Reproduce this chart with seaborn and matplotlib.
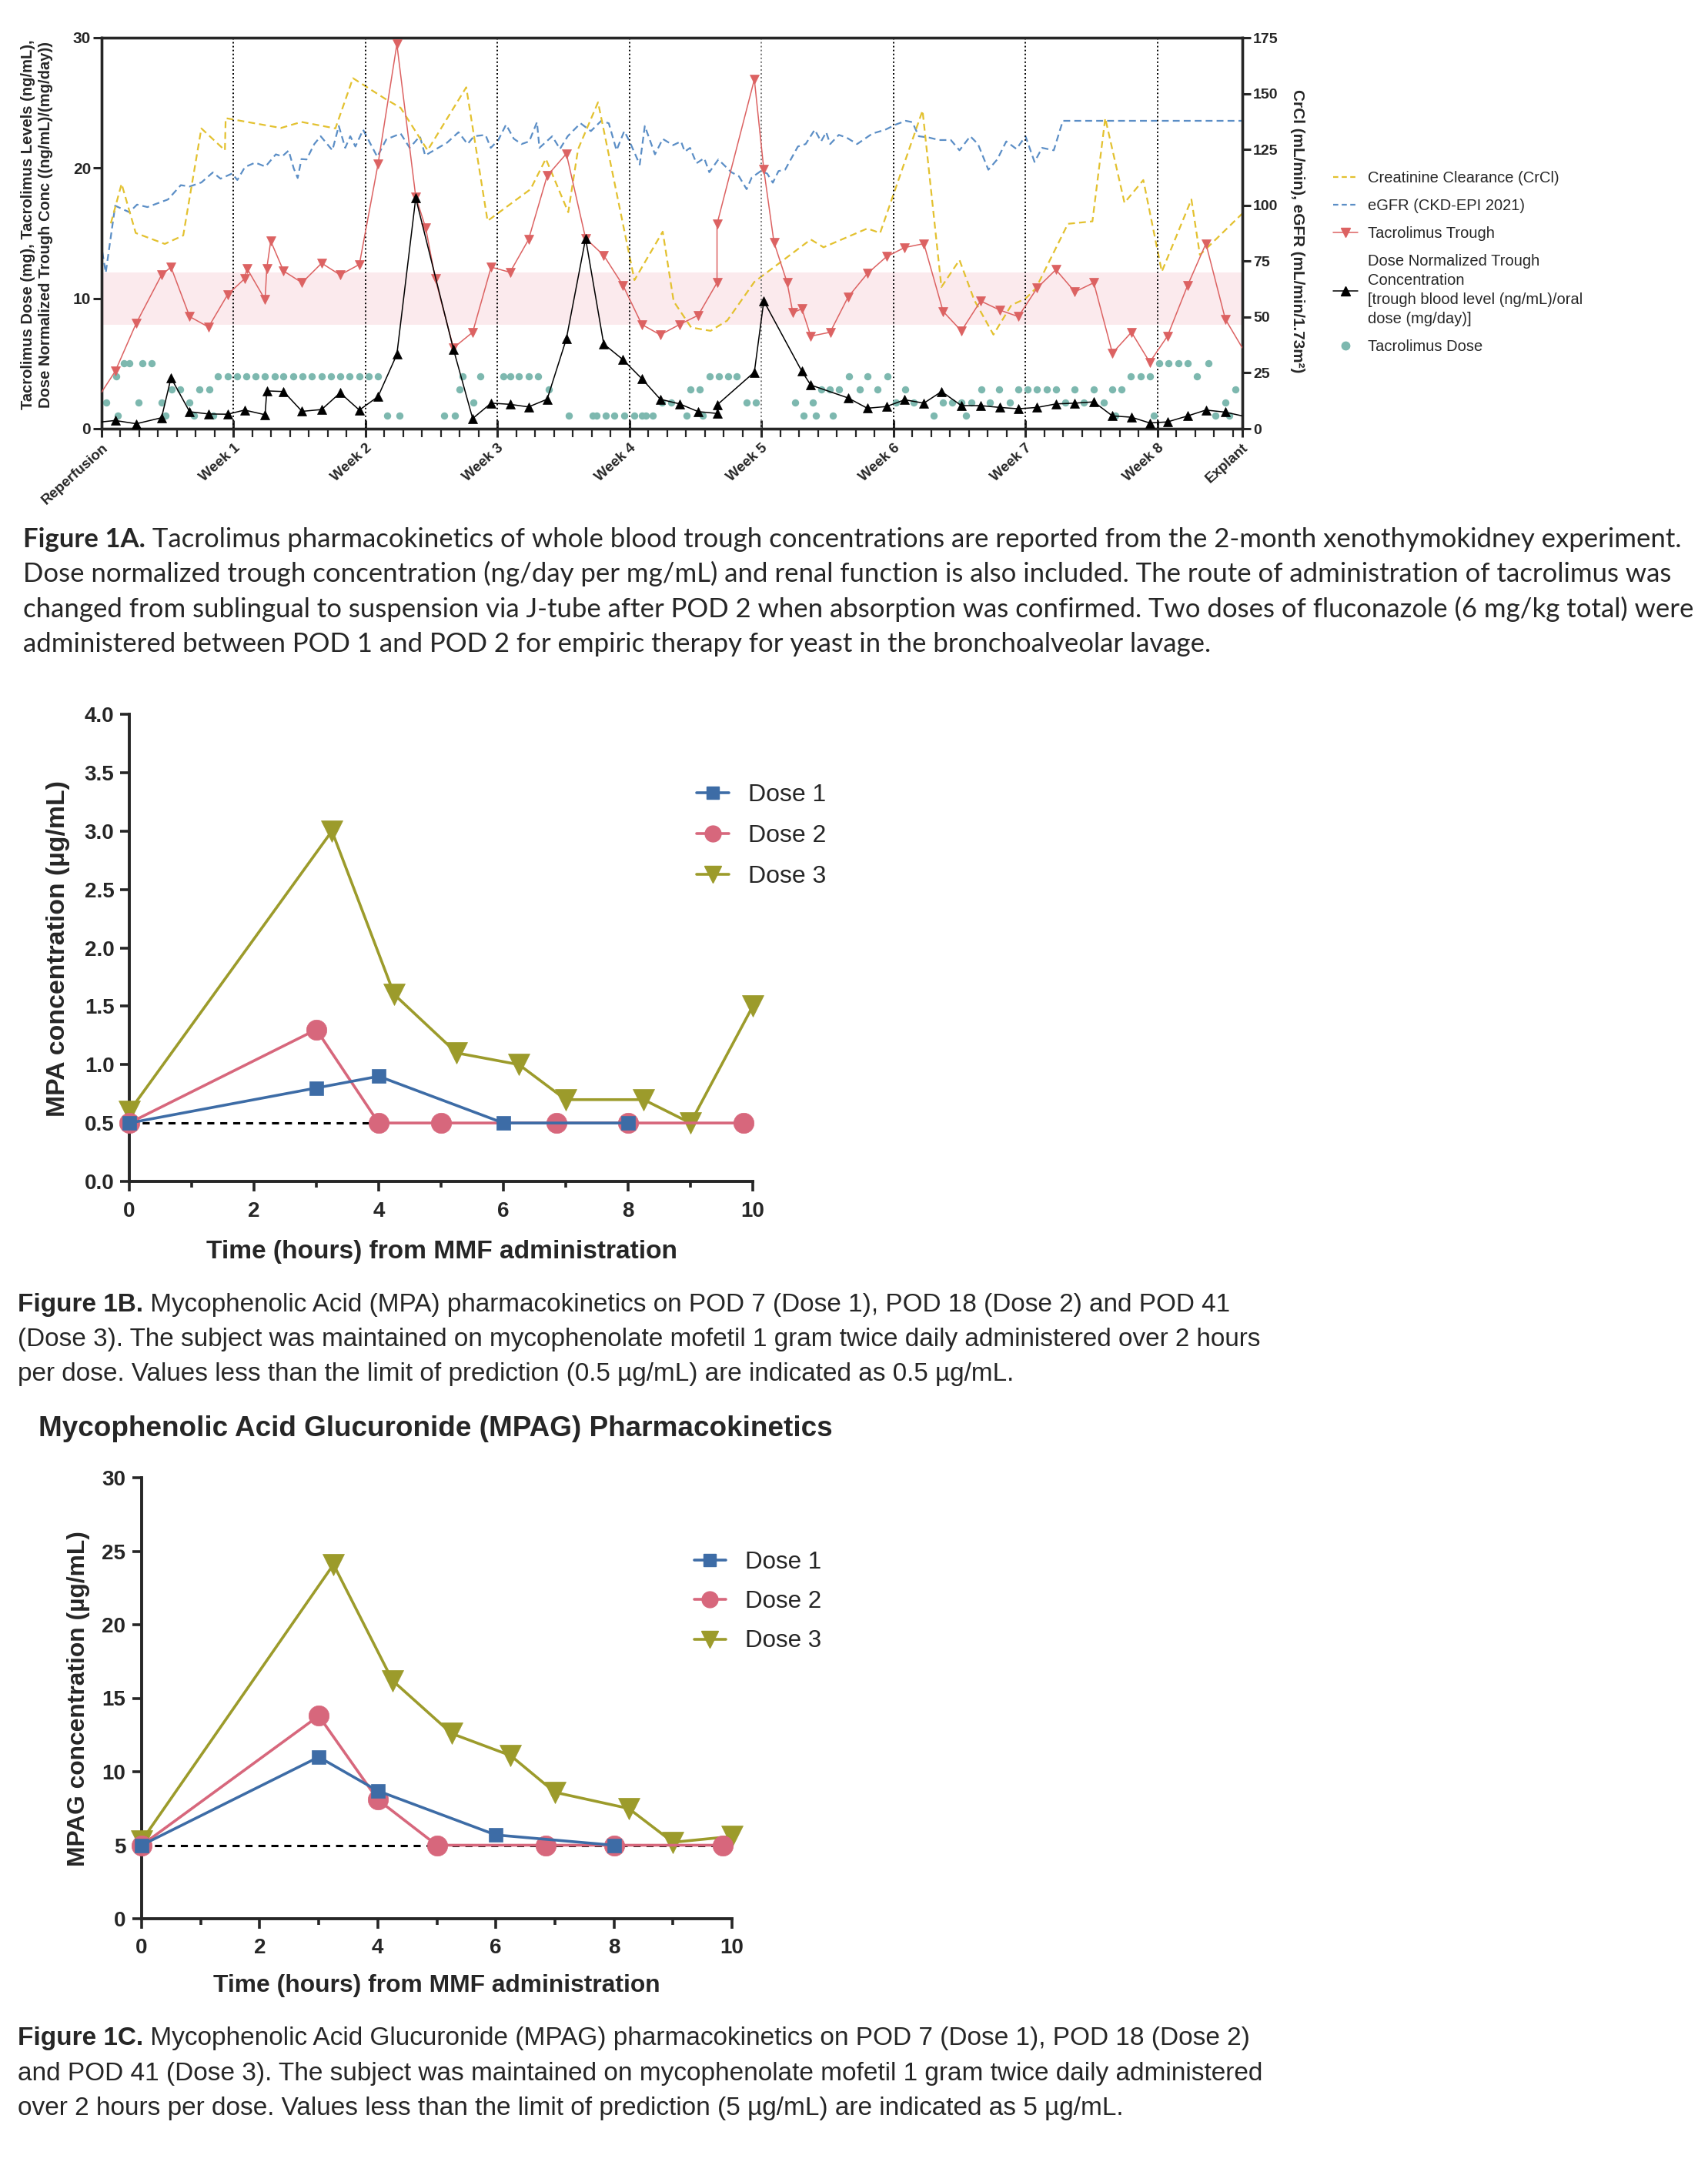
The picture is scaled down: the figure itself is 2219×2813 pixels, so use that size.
import matplotlib

matplotlib.use("Agg")
import matplotlib.pyplot as plt
import pandas as pd
import seaborn as sns
from matplotlib.lines import Line2D
from matplotlib.ticker import FixedLocator, FormatStrFormatter, MultipleLocator

W, H, DPI = 2219, 2813, 100

# ---------------- Figure 1A (days after reperfusion) ----------------
trough_day = [0.0, 0.72, 1.84, 3.18, 3.68, 4.67, 5.67, 6.69, 7.58, 7.71,
              8.67, 8.76, 8.97, 9.65, 10.63, 11.67, 12.65, 13.67, 14.66, 15.66,
              16.66, 17.19, 17.70, 18.66, 19.68, 20.66, 21.66, 22.64, 23.63, 24.65,
              25.67, 26.63, 27.65, 28.65, 29.63, 30.66, 31.64, 32.64, 32.64, 34.62,
              35.12, 35.66, 36.36, 36.66, 37.14, 37.61, 38.64, 39.59, 40.61, 41.63,
              42.59, 43.61, 44.63, 45.60, 46.62, 47.64, 48.62, 49.62, 50.61, 51.62,
              52.62, 53.61, 54.62, 55.59, 56.53, 57.60, 58.57, 59.60, 60.5]
trough = [2.8, 4.4, 8.1, 11.8, 12.4, 8.6, 7.8, 10.3, 11.5, 12.3,
          9.9, 12.3, 14.4, 12.1, 11.2, 12.7, 11.8, 12.6, 20.3, 29.5,
          17.8, 15.4, 11.5, 6.2, 7.4, 12.4, 12.0, 14.5, 19.4, 21.1,
          14.6, 13.3, 11.0, 8.0, 7.2, 8.0, 8.7, 11.2, 15.7, 26.8,
          19.9, 14.3, 11.2, 8.9, 9.2, 7.1, 7.4, 10.1, 11.9, 13.2,
          13.9, 14.2, 9.0, 7.5, 9.8, 9.1, 8.6, 10.8, 12.2, 10.5,
          11.2, 5.8, 7.4, 5.1, 7.1, 11.0, 14.2, 8.4, 6.2]

dn_day = [0.0, 0.72, 1.84, 3.18, 3.68, 4.67, 5.67, 6.69, 7.58, 8.67,
          8.76, 9.65, 10.63, 11.67, 12.65, 13.67, 14.66, 15.66, 16.66, 18.66,
          19.68, 20.66, 21.66, 22.64, 23.63, 24.65, 25.67, 26.63, 27.65, 28.65,
          29.63, 30.66, 31.64, 32.64, 32.64, 34.62, 35.12, 37.14, 37.61, 39.59,
          40.61, 41.63, 42.59, 43.61, 44.55, 45.60, 46.62, 47.64, 48.62, 49.62,
          50.61, 51.62, 52.62, 53.61, 54.62, 55.59, 56.53, 57.60, 58.57, 59.60, 60.5]
dn_trough = [0.52, 0.63, 0.38, 0.84, 3.9, 1.3, 1.13, 1.11, 1.43, 1.07,
             2.9, 2.85, 1.33, 1.47, 2.75, 1.43, 2.46, 5.7, 17.7, 6.1,
             0.78, 1.96, 1.87, 1.67, 2.26, 6.9, 14.6, 6.5, 5.3, 3.84,
             2.26, 1.9, 1.31, 1.17, 1.82, 4.34, 9.8, 4.4, 3.35, 2.36,
             1.57, 1.7, 2.22, 1.96, 2.85, 1.77, 1.77, 1.63, 1.53, 1.63,
             1.9, 1.96, 2.06, 0.98, 0.88, 0.44, 0.52, 0.98, 1.43, 1.27, 0.98]

egfr_day = [0.04, 0.22, 0.72, 1.47, 1.88, 2.43, 3.52, 4.2, 4.67, 5.29,
            5.9, 6.31, 6.92, 7.2, 7.6, 8.15, 8.69, 9.24, 9.58, 9.92,
            10.19, 10.4, 10.6, 10.87, 11.28, 11.62, 12.24, 12.58, 12.92, 13.19,
            13.46, 13.87, 14.62, 15.1, 15.86, 16.34, 16.88, 17.16, 18.32, 18.93,
            19.41, 19.75, 20.36, 20.64, 21.04, 21.45, 21.86, 22.27, 22.68, 23.09,
            23.22, 23.9, 24.31, 24.72, 25.4, 25.95, 26.5, 26.9, 27.31, 27.72,
            28.0, 28.54, 28.81, 29.35, 29.76, 30.31, 30.73, 30.93, 31.21, 31.55,
            31.96, 32.23, 32.71, 33.4, 33.8, 34.21, 34.48, 34.96, 35.3, 35.6,
            35.9, 36.25, 36.93, 37.34, 37.82, 38.16, 38.43, 38.64, 39.1, 39.51,
            40.07, 40.88, 41.56, 42.11, 42.65, 43.0, 43.34, 43.88, 44.43, 45.04,
            45.5, 46.07, 46.48, 47.03, 47.5, 47.98, 48.52, 49.0, 49.48, 49.88,
            50.5, 50.98, 60.5]
egfr = [79, 69.8, 99.8, 96.9, 100.3, 99.2, 102.6, 109, 108.4, 110.2,
        114.7, 111.9, 114.2, 111.3, 117.1, 119.1, 117.3, 122.8, 121.9, 124.5,
        116.5, 112.2, 120.7, 120.5, 127.4, 130.9, 124.6, 135.5, 125.7, 130.9,
        126.3, 133.8, 121.7, 129.5, 132.1, 125.7, 130.9, 122.3, 128, 132.7,
        127.4, 130.9, 131.5, 125.7, 129.2, 136.1, 129.8, 127.4, 128.6, 137.2,
        125.7, 130.9, 125.2, 130.9, 136.7, 133.2, 137.8, 136.7, 124.6, 133.2,
        128.6, 118.2, 135.5, 122.8, 129.7, 126.9, 128.6, 124, 125.7, 118.8,
        121.1, 114.8, 120.5, 114.8, 113, 107.2, 112.4, 115.3, 114.2, 110.1,
        115.3, 115.9, 126.3, 127.4, 133.8, 128.6, 132.7, 127.4, 131.5, 130.3,
        127.4, 132.1, 133.8, 136.1, 137.8, 137.2, 130.9, 130.3, 129.2, 129.2,
        124.6, 130.9, 127.4, 115.9, 120.5, 128.6, 125.2, 130.9, 119.4, 125.7,
        124.6, 137.8, 137.8]

crcl_day = [0.49, 1.06, 1.81, 3.35, 4.33, 5.29, 6.54, 6.58, 9.51, 10.6,
            12.4, 13.33, 15.05, 15.86, 17.29, 19.34, 20.47, 22.75, 23.56, 24.75,
            25.27, 26.33, 28.26, 29.76, 30.34, 31.27, 32.3, 33.18, 34.62, 37.61,
            38.29, 40.61, 41.29, 43.54, 44.54, 45.5, 46.28, 47.3, 48.25, 49.0,
            49.55, 51.25, 52.55, 53.23, 54.25, 55.25, 56.23, 57.8, 58.25, 60.5]
crcl = [91.9, 109.6, 87.6, 82.7, 86.5, 134.4, 124.6, 139, 134.6, 137.3,
        134.4, 156.9, 147.6, 143.6, 124.6, 152.8, 93, 107.2, 120.8, 96.9,
        125.1, 146.1, 66.5, 88.2, 57, 45.3, 43.8, 48.4, 65.7, 84.7,
        81.2, 89.6, 87.6, 142.4, 63.4, 75.5, 57.6, 42.1, 55.3, 58.2,
        62.8, 91.7, 92.8, 139, 101.1, 111.3, 70.3, 102.6, 77.8, 96.3]

dose_5mg = [1.20, 1.47, 2.15, 2.67, 56.09, 56.60, 57.10, 57.62, 58.71]
dose_4mg = [0.79, 6.17, 6.68, 7.20, 7.67, 8.18, 8.67, 9.17, 9.65, 10.17,
            10.67, 11.15, 11.67, 12.17, 12.65, 13.16, 13.67, 14.15, 14.66, 19.13,
            20.10, 21.29, 21.69, 22.13, 22.65, 23.15, 32.23, 32.73, 33.23, 33.66,
            39.63, 40.63, 41.68, 54.59, 55.11, 55.61, 58.11]
dose_3mg = [3.72, 4.17, 5.18, 5.70, 19.00, 23.70, 31.24, 31.73, 38.16, 38.63,
            39.11, 40.20, 41.16, 42.63, 46.66, 47.61, 48.62, 49.11, 49.62, 50.12,
            50.61, 51.62, 52.62, 53.61, 54.11, 60.15]
dose_2mg = [0.25, 1.95, 3.18, 4.67, 19.70, 29.70, 30.20, 34.21, 34.68, 36.77,
            37.72, 42.14, 43.06, 44.63, 45.10, 45.60, 46.12, 47.12, 48.16, 51.12,
            52.11, 53.16, 59.59]
dose_1mg = [0.86, 3.38, 4.88, 5.90, 15.13, 15.80, 18.18, 18.72, 24.79, 26.05,
            26.24, 26.72, 27.17, 27.72, 28.24, 28.67, 28.88, 29.24, 31.04, 31.89,
            37.23, 37.89, 38.77, 44.13, 45.84, 53.77, 55.79, 59.09, 59.80]

week_ticks = [0, 7, 14, 21, 28, 35, 42, 49, 56, 60.5]
week_labels = ["Reperfusion", "Week 1", "Week 2", "Week 3", "Week 4",
               "Week 5", "Week 6", "Week 7", "Week 8", "Explant"]
target_lo, target_hi = 8, 12

# ---------------- Figure 1B: MPA (ug/mL) ----------------
mpa_time_1 = [0, 3, 4, 6, 8]
mpa_1 = [0.5, 0.8, 0.9, 0.5, 0.5]
mpa_time_2 = [0, 3, 4, 5, 6.85, 8, 9.85]
mpa_2 = [0.5, 1.3, 0.5, 0.5, 0.5, 0.5, 0.5]
mpa_time_3 = [0, 3.25, 4.25, 5.25, 6.25, 7, 8.25, 9, 10]
mpa_3 = [0.6, 3.0, 1.6, 1.1, 1.0, 0.7, 0.7, 0.5, 1.5]
mpa_lod, mpa_lod_end = 0.5, 4

# ---------------- Figure 1C: MPAG (ug/mL) ----------------
mpag_time_1 = [0, 3, 4, 6, 8]
mpag_1 = [5.0, 11.0, 8.7, 5.7, 5.0]
mpag_time_2 = [0, 3, 4, 5, 6.85, 8, 9.85]
mpag_2 = [5.0, 13.8, 8.1, 5.0, 5.0, 5.0, 5.0]
mpag_time_3 = [0, 3.25, 4.25, 5.25, 6.25, 7, 8.25, 9, 10]
mpag_3 = [5.3, 24.1, 16.2, 12.6, 11.1, 8.6, 7.5, 5.2, 5.6]
mpag_lod, mpag_lod_end = 5, 9.85

RED = "#DC6262"
YELLOW = "#E3C12F"
BLUE = "#5B8EC6"
TEAL = "#7DB8AF"
D1, D2, D3 = "#3D6CA6", "#D7677C", "#9C9B2B"

sns.set_style("ticks")
plt.rcParams["font.family"] = ["Liberation Sans", "DejaVu Sans"]


def rect(left, top, right, bottom):
    return [left / W, 1 - bottom / H, (right - left) / W, (bottom - top) / H]


def fx(x):
    return x / W


def fy(y):
    return 1 - y / H


def text_width(fig, s, **kw):
    probe = fig.text(0, 0, s, fontsize=20, **kw)
    w = probe.get_window_extent(fig.canvas.get_renderer()).width
    probe.remove()
    return w


def fitted(fig, s, width, **kw):
    return 20 * width / text_width(fig, s, **kw)


def caption(fig, head, lines, x, baselines, right, family):
    size = 20 * (right - x) / (text_width(fig, head, fontweight="bold", family=family)
                               + text_width(fig, lines[0], family=family))
    t = fig.text(fx(x), fy(baselines[0]), head, fontsize=size, fontweight="bold",
                 family=family, va="baseline")
    wb = t.get_window_extent(fig.canvas.get_renderer()).width
    fig.text(fx(x + wb), fy(baselines[0]), lines[0], fontsize=size, family=family,
             va="baseline")
    for line, b in zip(lines[1:], baselines[1:]):
        fig.text(fx(x), fy(b), line, fontsize=size, family=family, va="baseline")


def bold_ticks(axis_obj):
    for lbl in axis_obj.get_xticklabels() + axis_obj.get_yticklabels():
        lbl.set_fontweight("bold")


fig = plt.figure(figsize=(W / DPI, H / DPI), dpi=DPI)

# ======================= Figure 1A =======================
ax = fig.add_axes(rect(132, 49, 1614, 557))
axr = ax.twinx()
ax.set_zorder(axr.get_zorder() + 1)
ax.patch.set_visible(False)

axr.axhspan(target_lo * 175 / 30, target_hi * 175 / 30, color="#FBEAED", lw=0, zorder=0)

sns.lineplot(x=egfr_day, y=egfr, ax=axr, color=BLUE, linewidth=1.6,
             linestyle=(0, (4, 2.4)), estimator=None, sort=False, zorder=2)
sns.lineplot(x=crcl_day, y=crcl, ax=axr, color=YELLOW, linewidth=1.6,
             linestyle=(0, (4, 2.4)), estimator=None, sort=False, zorder=2)

for d in week_ticks[1:-1]:
    ax.axvline(d, color="#777777" if d == 35 else "black", lw=1.4,
               ls=(0, (1, 1.6)), zorder=1)

dose_df = pd.DataFrame({
    "day": dose_1mg + dose_2mg + dose_3mg + dose_4mg + dose_5mg,
    "mg": [1] * len(dose_1mg) + [2] * len(dose_2mg) + [3] * len(dose_3mg)
    + [4] * len(dose_4mg) + [5] * len(dose_5mg),
})
sns.scatterplot(data=dose_df, x="day", y="mg", ax=ax, color=TEAL, s=46,
                linewidth=0, zorder=2, legend=False)

sns.lineplot(x=trough_day, y=trough, ax=ax, color=RED, linewidth=1.1, marker="v",
             markersize=8, markeredgecolor=RED, markeredgewidth=0.5,
             markevery=slice(1, -1), estimator=None, sort=False, zorder=3)
sns.lineplot(x=dn_day, y=dn_trough, ax=ax, color="black", linewidth=1.1, marker="^",
             markersize=8, markeredgecolor="black", markeredgewidth=0.5,
             markevery=slice(1, -1), estimator=None, sort=False, zorder=4)

ax.set_xlim(0, 60.5)
ax.set_ylim(0, 30)
axr.set_ylim(0, 175)
ax.set_xlabel("")
ax.set_ylabel("")
axr.set_ylabel("")
ax.set_yticks([0, 10, 20, 30])
axr.set_yticks(range(0, 176, 25))
ax.set_xticks(week_ticks)
ax.set_xticklabels(week_labels, rotation=42, ha="right", rotation_mode="anchor",
                   fontsize=13.5)
ax.xaxis.set_minor_locator(FixedLocator(list(range(0, 61))))
ax.tick_params(axis="x", which="major", direction="inout", length=16, width=2.2, pad=4)
ax.tick_params(axis="x", which="minor", direction="out", length=8, width=1.6)
ax.tick_params(axis="y", which="major", direction="out", length=8, width=2.2,
               labelsize=15, pad=2)
axr.tick_params(axis="y", which="major", direction="out", length=8, width=2.2,
                labelsize=14, pad=2)
for sp in list(ax.spines.values()) + list(axr.spines.values()):
    sp.set_linewidth(2.4)
bold_ticks(ax)
bold_ticks(axr)

lab1 = "Tacrolimus Dose (mg), Tacrolimus Levels (ng/mL),"
lab2 = "Dose Normalized Trough Conc ((ng/mL)/(mg/day))"
s_left = fitted(fig, lab1, 480, fontweight="bold")
fig.text(fx(48), fy(292), lab1 + "\n" + lab2, rotation=90, ha="center", va="center",
         fontsize=s_left, fontweight="bold", linespacing=1.25)
rlab = "CrCl (mL/min), eGFR (mL/min/1.73m²)"
fig.text(fx(1686), fy(300), rlab, rotation=-90, ha="center", va="center",
         fontsize=fitted(fig, rlab, 368, fontweight="bold"), fontweight="bold")

legend_a = [
    (Line2D([], [], color=YELLOW, lw=1.6, ls=(0, (3, 2))), "Creatinine Clearance (CrCl)"),
    (Line2D([], [], color=BLUE, lw=1.6, ls=(0, (3, 2))), "eGFR (CKD-EPI 2021)"),
    (Line2D([], [], color=RED, lw=1.1, marker="v", ms=9), "Tacrolimus Trough"),
    (Line2D([], [], color="black", lw=1.1, marker="^", ms=9),
     "Dose Normalized Trough\nConcentration\n[trough blood level (ng/mL)/oral\ndose (mg/day)]"),
    (Line2D([], [], color=TEAL, lw=0, marker="o", ms=7.5), "Tacrolimus Dose"),
]
leg_a = fig.legend([h for h, _ in legend_a], [l for _, l in legend_a], loc="upper left",
                   bbox_to_anchor=(fx(1732), fy(222)), frameon=False, fontsize=14.5,
                   handlelength=1.6, handletextpad=0.65, labelspacing=0.85, borderpad=0,
                   borderaxespad=0)
for t in leg_a.get_texts():
    t.set_linespacing(1.4)

caption(fig, "Figure 1A.",
        [" Tacrolimus pharmacokinetics of whole blood trough concentrations are reported from the 2-month xenothymokidney experiment.",
         "Dose normalized trough concentration (ng/day per mg/mL) and renal function is also included. The route of administration of tacrolimus was",
         "changed from sublingual to suspension via J-tube after POD 2 when absorption was confirmed. Two doses of fluconazole (6 mg/kg total) were",
         "administered between POD 1 and POD 2 for empiric therapy for yeast in the bronchoalveolar lavage."],
        30, [711, 756, 802, 847], 2188, ["Lato", "DejaVu Sans"])


# ======================= Figures 1B and 1C =======================
def pk_panel(axp, times, values, lod, lod_end, xpad, ypad):
    axp.hlines(lod, 0, lod_end, colors="black", linestyles=(0, (3, 2.5)), lw=2.2, zorder=1)
    styles = [(D3, "v", 20), (D2, "o", 19), (D1, "s", 13)]
    for (t, v), (color, marker, ms) in zip(list(zip(times, values))[::-1], styles):
        sns.lineplot(x=t, y=v, ax=axp, color=color, linewidth=2.6, marker=marker,
                     markersize=ms, markeredgecolor=color, markeredgewidth=0.5,
                     estimator=None, sort=False, clip_on=False, zorder=3)
    axp.spines[["top", "right"]].set_visible(False)
    axp.spines["left"].set_linewidth(2.8)
    axp.spines["bottom"].set_linewidth(2.8)
    axp.set_xlim(0, 10)
    axp.xaxis.set_major_locator(MultipleLocator(2))
    axp.xaxis.set_minor_locator(MultipleLocator(1))
    axp.tick_params(which="major", direction="out", length=9, width=2.6, labelsize=20)
    axp.tick_params(which="minor", direction="out", length=6, width=2.6)
    axp.tick_params(axis="x", which="major", pad=xpad)
    axp.tick_params(axis="y", which="major", pad=ypad)
    axp.set_xlabel("")
    axp.set_ylabel("")
    handles = [Line2D([], [], color=D1, lw=2.6, marker="s", ms=11),
               Line2D([], [], color=D2, lw=2.6, marker="o", ms=15),
               Line2D([], [], color=D3, lw=2.6, marker="v", ms=16)]
    return handles


axb = fig.add_axes(rect(168, 928, 978, 1535))
hb = pk_panel(axb, [mpa_time_1, mpa_time_2, mpa_time_3], [mpa_1, mpa_2, mpa_3],
              mpa_lod, mpa_lod_end, 10, 5)
axb.set_ylim(0, 4)
axb.yaxis.set_major_locator(MultipleLocator(0.5))
axb.yaxis.set_major_formatter(FormatStrFormatter("%.1f"))
bold_ticks(axb)
axb.legend(hb, ["Dose 1", "Dose 2", "Dose 3"], loc="upper left",
           bbox_to_anchor=(fx(905), fy(1018)), bbox_transform=fig.transFigure,
           frameon=False, fontsize=23, handlelength=1.3, handletextpad=0.8,
           labelspacing=0.72, borderpad=0, borderaxespad=0)
ylab_b = "MPA concentration (µg/mL)"
fig.text(fx(76), fy(1232), ylab_b, rotation=90, ha="center", va="center",
         fontweight="bold", fontsize=fitted(fig, ylab_b, 438, fontweight="bold"))
xlab = "Time (hours) from MMF administration"
fig.text(fx(574), fy(1626), xlab, ha="center", va="center", fontweight="bold",
         fontsize=fitted(fig, xlab, 612, fontweight="bold"))

caption(fig, "Figure 1B.",
        [" Mycophenolic Acid (MPA) pharmacokinetics on POD 7 (Dose 1), POD 18 (Dose 2) and POD 41",
         "(Dose 3). The subject was maintained on mycophenolate mofetil 1 gram twice daily administered over 2 hours",
         "per dose. Values less than the limit of prediction (0.5 µg/mL) are indicated as 0.5 µg/mL."],
        23, [1704, 1749, 1794], 1597, ["Liberation Sans", "DejaVu Sans"])

title_c = "Mycophenolic Acid Glucuronide (MPAG) Pharmacokinetics"
fig.text(fx(50), fy(1857), title_c, ha="left", va="center", fontweight="bold",
         fontsize=fitted(fig, title_c, 1031, fontweight="bold"))

axc = fig.add_axes(rect(184, 1920, 951, 2493))
hc = pk_panel(axc, [mpag_time_1, mpag_time_2, mpag_time_3], [mpag_1, mpag_2, mpag_3],
              mpag_lod, mpag_lod_end, 9, 6)
axc.set_ylim(0, 30)
axc.yaxis.set_major_locator(MultipleLocator(5))
bold_ticks(axc)
axc.legend(hc, ["Dose 1", "Dose 2", "Dose 3"], loc="upper left",
           bbox_to_anchor=(fx(902), fy(2015)), bbox_transform=fig.transFigure,
           frameon=False, fontsize=22.5, handlelength=1.3, handletextpad=0.8,
           labelspacing=0.68, borderpad=0, borderaxespad=0)
ylab_c = "MPAG concentration (µg/mL)"
fig.text(fx(102), fy(2207), ylab_c, rotation=90, ha="center", va="center",
         fontweight="bold", fontsize=fitted(fig, ylab_c, 436, fontweight="bold"))
fig.text(fx(567), fy(2580), xlab, ha="center", va="center", fontweight="bold",
         fontsize=fitted(fig, xlab, 580, fontweight="bold"))

caption(fig, "Figure 1C.",
        [" Mycophenolic Acid Glucuronide (MPAG) pharmacokinetics on POD 7 (Dose 1), POD 18 (Dose 2)",
         "and POD 41 (Dose 3). The subject was maintained on mycophenolate mofetil 1 gram twice daily administered",
         "over 2 hours per dose. Values less than the limit of prediction (5 µg/mL) are indicated as 5 µg/mL."],
        23, [2657, 2703, 2748], 1623, ["Liberation Sans", "DejaVu Sans"])

fig.savefig("out.png", dpi=DPI)
